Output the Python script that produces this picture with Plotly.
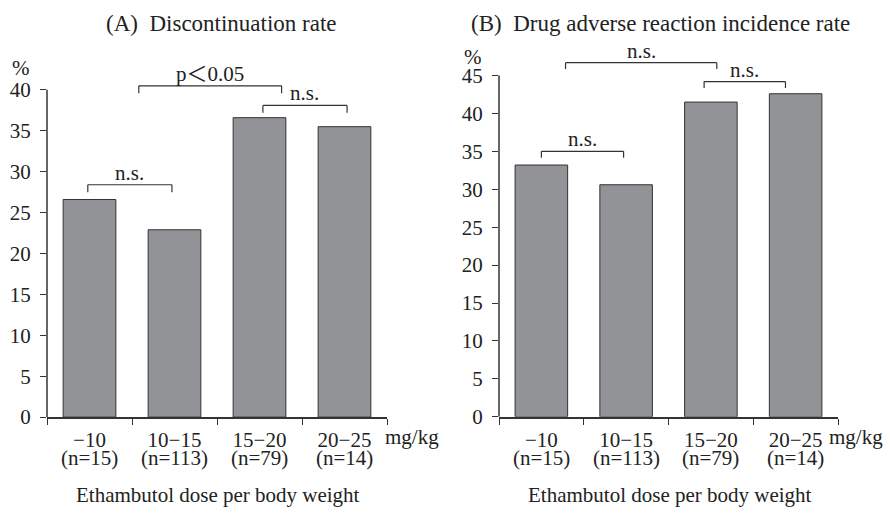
import plotly.graph_objects as go

# ---------------- data ----------------
categories = ["−10", "10−15", "15−20", "20−25"]
n_labels = ["(n=15)", "(n=113)", "(n=79)", "(n=14)"]
discontinuation = [26.6, 22.9, 36.6, 35.5]
adverse_reaction = [33.2, 30.6, 41.5, 42.6]
ticks_a = [0, 5, 10, 15, 20, 25, 30, 35, 40]
ticks_b = [0, 5, 10, 15, 20, 25, 30, 35, 40, 45]
# brackets: (x0, x1, top value, label)
brackets_a = [(-0.02, 0.97, 28.4, "n.s."), (0.58, 2.26, 40.5, "p\uff1c0.05"), (2.04, 3.03, 38.1, "n.s.")]
brackets_b = [(0.0, 0.97, 35.0, "n.s."), (0.285, 2.07, 46.7, "n.s."), (1.92, 2.88, 44.2, "n.s.")]

title_a = "(A)  Discontinuation rate"
title_b = "(B)  Drug adverse reaction incidence rate"
xtitle = "Ethambutol dose per body weight"

# ---------------- layout helpers ----------------
W, H = 890, 518
FONT = "Liberation Serif, Noto Sans CJK JP"
TXT = "#222222"
BAR = "#929397"
EDGE = "#333333"
FS = 21


def px(x):
    return x / W


def py(y):
    return (H - y) / H


# panel geometry in pixels: x left, x right, y of zero, px per unit, range top
PA = dict(xl=47, xr=387, y0=427, unit=8.375, top=43, mg_shift=-4)
PB = dict(xl=499, xr=838, y0=426.7, unit=7.764, top=48.5, mg_shift=-11)

fig = go.Figure()

fig.add_trace(go.Bar(x=categories, y=discontinuation, width=0.62,
                     marker=dict(color=BAR, line=dict(color=EDGE, width=1)),
                     xaxis="x", yaxis="y", hoverinfo="skip"))
fig.add_trace(go.Bar(x=categories, y=adverse_reaction, width=0.62,
                     marker=dict(color=BAR, line=dict(color=EDGE, width=1)),
                     xaxis="x2", yaxis="y2", hoverinfo="skip"))


def xaxis_def(p, anchor):
    return dict(domain=[px(p["xl"]), px(p["xr"])], anchor=anchor, type="category",
                range=[-0.5, 3.5], tickson="boundaries", ticks="outside", ticklen=6,
                tickwidth=1.2, tickcolor=EDGE, showline=True, linecolor=EDGE, linewidth=1.5,
                showgrid=False, zeroline=False, ticklabelstandoff=3,
                tickfont=dict(family=FONT, size=FS, color=TXT))


def yaxis_def(p, anchor, tv):
    top_px = p["y0"] - p["top"] * p["unit"]
    return dict(domain=[py(p["y0"]), py(top_px)], anchor=anchor, range=[0, p["top"]],
                tickvals=tv, ticks="outside", ticklen=6, tickwidth=1.2, tickcolor=EDGE,
                showline=False, showgrid=False, zeroline=False, ticklabelstandoff=5,
                tickfont=dict(family=FONT, size=FS, color=TXT))


shapes = []
annotations = []


def add_panel(p, xr, yr, tv, brackets, drop, title, title_x, pct_xy):
    # y axis line
    shapes.append(dict(type="line", xref=f"{xr} domain", yref=yr, x0=0, x1=0, y0=0, y1=tv[-1],
                       line=dict(color=EDGE, width=1.5)))
    for x0, x1, top, lab in brackets:
        for (a, b, c, d) in [(x0, top, x1, top), (x0, top, x0, top - drop), (x1, top, x1, top - drop)]:
            shapes.append(dict(type="line", xref=xr, yref=yr, x0=a, y0=b, x1=c, y1=d,
                               line=dict(color=EDGE, width=1.2)))
        annotations.append(dict(x=(x0 + x1) / 2, y=top, xref=xr, yref=yr, text=lab,
                                showarrow=False, yanchor="middle", yshift=12,
                                font=dict(family=FONT, size=FS, color=TXT)))
    # n labels
    for c, n in zip(categories, n_labels):
        annotations.append(dict(x=c, y=0, xref=xr, yref=f"{yr} domain", text=n, showarrow=False,
                                yanchor="middle", yshift=-41,
                                font=dict(family=FONT, size=FS, color=TXT)))
    annotations.append(dict(x=1, y=0, xref=f"{xr} domain", yref=f"{yr} domain", text="mg/kg",
                            showarrow=False, xanchor="left", yanchor="middle",
                            xshift=p["mg_shift"], yshift=-20,
                            font=dict(family=FONT, size=FS, color=TXT)))
    annotations.append(dict(x=px(title_x), y=py(24), xref="paper", yref="paper", text=title,
                            showarrow=False, xanchor="center", yanchor="middle",
                            font=dict(family=FONT, size=FS + 2, color=TXT)))
    annotations.append(dict(x=px(pct_xy[0]), y=py(pct_xy[1]), xref="paper", yref="paper", text="%",
                            showarrow=False, xanchor="center", yanchor="middle",
                            font=dict(family=FONT, size=FS, color=TXT)))
    annotations.append(dict(x=px((p["xl"] + p["xr"]) / 2 + 1), y=py(507), xref="paper", yref="paper",
                            text=xtitle, showarrow=False, xanchor="center", yanchor="middle",
                            font=dict(family=FONT, size=FS, color=TXT)))


add_panel(PA, "x", "y", ticks_a, brackets_a, 0.9, title_a, 221, (21, 70))
add_panel(PB, "x2", "y2", ticks_b, brackets_b, 0.85, title_b, 660, (473, 58))

fig.update_layout(
    width=W, height=H, margin=dict(l=0, r=0, t=0, b=0),
    paper_bgcolor="white", plot_bgcolor="white", showlegend=False,
    xaxis=xaxis_def(PA, "y"), yaxis=yaxis_def(PA, "x", ticks_a),
    xaxis2=xaxis_def(PB, "y2"), yaxis2=yaxis_def(PB, "x2", ticks_b),
    shapes=shapes, annotations=annotations,
    font=dict(family=FONT, color=TXT),
)

post = (
    "document.documentElement.style.margin='0';"
    "document.body.style.margin='0';"
    "document.documentElement.style.overflow='hidden';"
    "var g=document.getElementById('{plot_id}');"
    "g.style.position='fixed';g.style.left='0px';g.style.top='0px';"
)
fig.write_html("out.html", config={"displayModeBar": False}, post_script=post)
